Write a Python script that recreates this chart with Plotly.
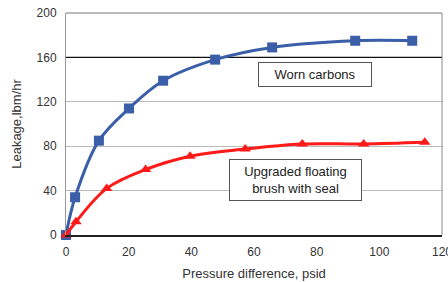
import plotly.graph_objects as go

# Data
worn_x = [0, 2.9, 10.5, 20.1, 31.0, 47.6, 65.8, 92.3, 110.5]
worn_y = [0, 34, 85, 114, 139, 158, 169, 175, 175]
upg_x = [0, 3.2, 13.0, 25.4, 39.6, 57.2, 75.4, 95.0, 114.5]
upg_y = [0, 12, 42, 59, 71, 77.5, 82, 82, 83.5]

x_ticks = [0, 20, 40, 60, 80, 100, 120]
y_ticks = [0, 40, 80, 120, 160, 200]
x_range = [0, 120]
ref_level = 160

FONT = "Liberation Sans, Arial, sans-serif"
BLUE = "#3a5ea8"
RED = "#ff1a1a"

fig = go.Figure()
# dark reference line at 160, drawn under the data
fig.add_trace(go.Scatter(
    x=x_range, y=[ref_level, ref_level], mode="lines",
    line=dict(color="#111111", width=1.3), showlegend=False, hoverinfo="skip"))
fig.add_trace(go.Scatter(
    x=worn_x, y=worn_y, mode="lines+markers",
    line=dict(color=BLUE, width=3, shape="spline", smoothing=1.0),
    marker=dict(symbol="square", size=10, color=BLUE),
    showlegend=False, cliponaxis=False))
fig.add_trace(go.Scatter(
    x=upg_x, y=upg_y, mode="lines+markers",
    line=dict(color=RED, width=3, shape="spline", smoothing=1.0),
    marker=dict(symbol="triangle-up", size=10, color=RED),
    showlegend=False, cliponaxis=False))

fig.add_annotation(x=79.6, y=144.5, xref="x", yref="y", text="Worn carbons",
                   showarrow=False, font=dict(family=FONT, size=13, color="#222222"),
                   bgcolor="white", bordercolor="#555555", borderwidth=1,
                   width=110, height=21, borderpad=1)
fig.add_annotation(x=73.3, y=49.5, xref="x", yref="y",
                   text="Upgraded floating<br>brush with seal",
                   showarrow=False, font=dict(family=FONT, size=13, color="#222222"),
                   bgcolor="white", bordercolor="#555555", borderwidth=1,
                   width=129, height=38, borderpad=1)

fig.update_layout(
    width=448, height=282,
    margin=dict(l=66, r=6, t=13, b=47),
    paper_bgcolor="white", plot_bgcolor="white",
    font=dict(family=FONT, size=12, color="#333333"),
    xaxis=dict(range=x_range, tickvals=x_ticks, showgrid=False, automargin=False,
               ticklabeloverflow="allow",
               showline=True, linecolor="#222222", linewidth=1.5, mirror=False,
               ticks="outside", ticklen=5, tickcolor="rgba(0,0,0,0)", zeroline=False,
               title=dict(text="Pressure difference, psid", standoff=11,
                          font=dict(family=FONT, size=13, color="#333333"))),
    yaxis=dict(range=[0, 200], tickvals=y_ticks, showgrid=True, automargin=False,
               gridcolor="#bbbbbb", gridwidth=1,
               showline=True, linecolor="#999999", linewidth=1,
               ticks="outside", ticklen=6, tickcolor="rgba(0,0,0,0)", zeroline=False,
               title=dict(text="Leakage,lbm/hr", standoff=12,
                          font=dict(family=FONT, size=13, color="#333333"))),
)
# right and top border
fig.add_shape(type="line", xref="paper", yref="paper", x0=1, x1=1, y0=0, y1=1,
              line=dict(color="#888888", width=1))
fig.add_shape(type="line", xref="paper", yref="paper", x0=0, x1=1, y0=1, y1=1,
              line=dict(color="#777777", width=1))

fig.write_html("out.html", config={"displayModeBar": False},
               post_script="document.body.style.margin='0';document.body.style.overflow='hidden';")
